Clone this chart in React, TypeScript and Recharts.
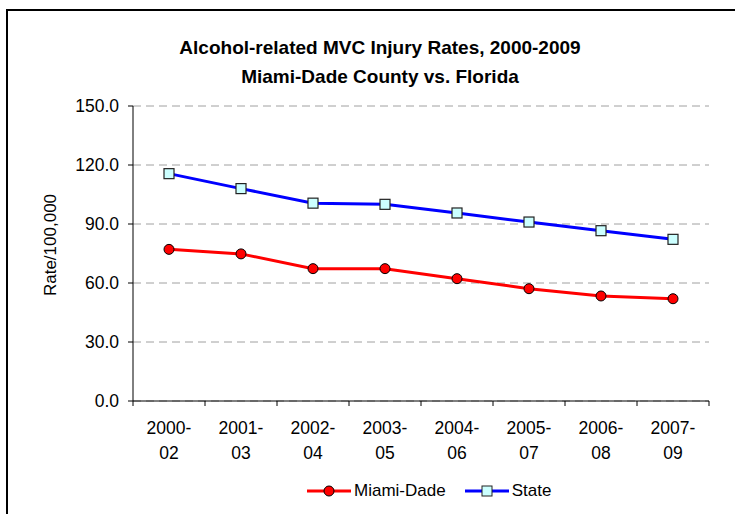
import { CartesianGrid, Legend, Line, LineChart, XAxis, YAxis } from "recharts";

const periods = ["2000-02", "2001-03", "2002-04", "2003-05", "2004-06", "2005-07", "2006-08", "2007-09"];
const miamiDade = [77.1, 74.8, 67.3, 67.3, 62.2, 57.1, 53.4, 52.0];
const state = [115.6, 108.0, 100.6, 100.0, 95.6, 91.0, 86.6, 82.2];
const yTicks = [0, 30, 60, 90, 120, 150];

const data = periods.map((p, i) => ({ period: p, miami: miamiDade[i], state: state[i] }));

const FONT = "'Liberation Sans', Arial, sans-serif";
const W = 735;
const H = 514;
const PLOT_LEFT = 133;
const PLOT_RIGHT = 709;
const BAND = (PLOT_RIGHT - PLOT_LEFT) / periods.length;

const XTick = (props: any) => {
  const { x, y, payload, index } = props;
  const [top, bottom] = String(payload.value).split("-");
  const half = BAND / 2;
  return (
    <g>
      <line x1={x - half} x2={x - half} y1={y} y2={y + 5} stroke="#000" />
      {index === periods.length - 1 && (
        <line x1={x + half} x2={x + half} y1={y} y2={y + 5} stroke="#000" />
      )}
      <text x={x} y={y + 33} textAnchor="middle" fontSize={17.5} fontFamily={FONT} fill="#000">
        {top}-
      </text>
      <text x={x} y={y + 58} textAnchor="middle" fontSize={17.5} fontFamily={FONT} fill="#000">
        {bottom}
      </text>
    </g>
  );
};

const SquareDot = (props: any) => {
  const { cx, cy, index } = props;
  if (cx == null || cy == null) return null;
  return <rect key={index} x={cx - 5} y={cy - 5} width={10} height={10} fill="#CCFFFF" stroke="#222" strokeWidth={1.2} />;
};

const LegendBox = () => (
  <div style={{ display: "flex", alignItems: "center", fontFamily: FONT, fontSize: 17, color: "#000" }}>
    <svg width={44} height={14}>
      <line x1={0} x2={44} y1={7} y2={7} stroke="#FF0000" strokeWidth={3} />
      <circle cx={22} cy={7} r={5} fill="#FF0000" stroke="#000" />
    </svg>
    <span style={{ marginLeft: 3, marginRight: 19 }}>Miami-Dade</span>
    <svg width={44} height={14}>
      <line x1={0} x2={44} y1={7} y2={7} stroke="#0000FF" strokeWidth={3} />
      <rect x={17} y={2} width={10} height={10} fill="#CCFFFF" stroke="#222" />
    </svg>
    <span style={{ marginLeft: 3 }}>State</span>
  </div>
);

export default function App() {
  return (
    <div style={{ position: "absolute", left: 0, top: 0, width: W, height: H, overflow: "hidden", background: "#fff" }}>
      <div
        style={{
          position: "absolute",
          left: 6,
          top: 9,
          width: W,
          height: H,
          borderLeft: "2px solid #000",
          borderTop: "2px solid #000",
        }}
      />
      <LineChart
        width={W}
        height={H}
        data={data}
        margin={{ top: 106, right: W - PLOT_RIGHT, bottom: 0, left: 0 }}
        style={{ position: "absolute", left: 0, top: 0 }}
      >
        <text x={380} y={54} textAnchor="middle" fontSize={19} fontWeight="bold" fontFamily={FONT} fill="#000">
          Alcohol-related MVC Injury Rates, 2000-2009
        </text>
        <text x={380} y={83} textAnchor="middle" fontSize={19} fontWeight="bold" fontFamily={FONT} fill="#000">
          Miami-Dade County vs. Florida
        </text>
        <text
          x={56}
          y={245}
          transform="rotate(-90 56 245)"
          textAnchor="middle"
          fontSize={17}
          fontFamily={FONT}
          fill="#000"
        >
          Rate/100,000
        </text>
        <CartesianGrid vertical={false} stroke="#A0A0A0" strokeDasharray="8 5" />
        <XAxis
          dataKey="period"
          height={H - 401}
          padding={{ left: BAND / 2, right: BAND / 2 }}
          axisLine={{ stroke: "#000" }}
          tickLine={false}
          tickSize={0}
          tickMargin={0}
          interval={0}
          tick={<XTick />}
        />
        <YAxis
          width={PLOT_LEFT}
          domain={[0, 150]}
          ticks={yTicks}
          tickFormatter={(v: number) => v.toFixed(1)}
          axisLine={{ stroke: "#000" }}
          tickLine={{ stroke: "#000" }}
          tickSize={5}
          tickMargin={9}
          tick={{ fontSize: 17.5, fontFamily: FONT, fill: "#000" }}
        />
        <Legend
          layout="horizontal"
          verticalAlign="middle"
          align="center"
          content={<LegendBox />}
          wrapperStyle={{ left: 307, top: 481, width: 300, height: 20 }}
        />
        <Line
          type="linear"
          dataKey="miami"
          name="Miami-Dade"
          stroke="#FF0000"
          strokeWidth={3}
          dot={{ r: 5, fill: "#FF0000", stroke: "#000", strokeWidth: 1 }}
          isAnimationActive={false}
        />
        <Line
          type="linear"
          dataKey="state"
          name="State"
          stroke="#0000FF"
          strokeWidth={3}
          dot={<SquareDot />}
          isAnimationActive={false}
        />
      </LineChart>
    </div>
  );
}
